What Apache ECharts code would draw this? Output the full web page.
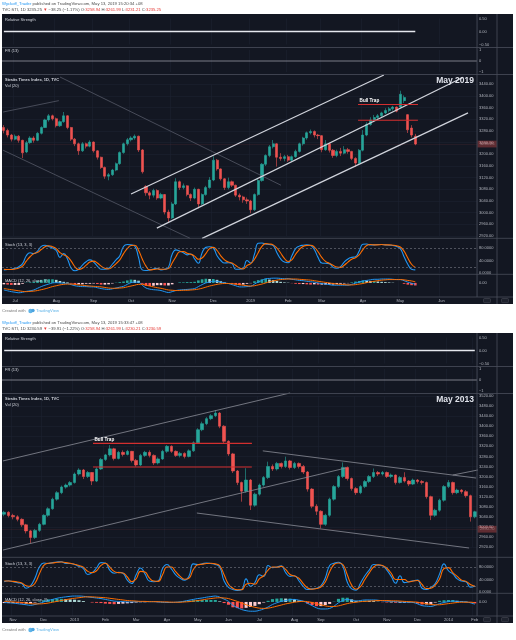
<!DOCTYPE html>
<html>
<head>
<meta charset="utf-8">
<title>STI - May 2019 vs May 2013</title>
<script src="https://cdn.jsdelivr.net/npm/echarts@6/dist/echarts.min.js"></script>
<style>
  html, body { margin: 0; padding: 0; background: #fff; }
  #main { width: 516px; height: 640px; }
</style>
</head>
<body>
<div id="main"></div>
<script>
// ---------- top screenshot (2018-19), one candle = 2 trading days ----------
const topMonthLabels = ['Jul', 'Aug', 'Sep', 'Oct', 'Nov', 'Dec', '2019', 'Feb', 'Mar', 'Apr', 'May', 'Jun'];
const topMonthSlots = [3, 14, 24, 34, 45, 56, 66, 76, 85, 96, 106, 117];
const topSlotCount = 127;
const topLastPrice = 3235.25;

// [open, close, low, high]
const topCandles = [
  [3292,3282,3272,3300],[3282,3266,3258,3288],[3266,3252,3244,3270],[3252,3262,3248,3268],[3262,3248,3240,3266],
  [3248,3205,3187,3250],[3208,3240,3204,3246],[3240,3256,3236,3262],[3256,3248,3240,3262],[3248,3272,3245,3276],
  [3272,3292,3268,3296],[3292,3318,3290,3322],[3318,3332,3312,3338],[3332,3322,3316,3336],[3322,3298,3292,3326],
  [3298,3312,3294,3316],[3312,3332,3308,3345],[3332,3292,3286,3334],[3292,3252,3246,3294],[3252,3236,3228,3256],
  [3236,3212,3198,3240],[3212,3236,3208,3242],[3236,3228,3220,3240],[3228,3242,3224,3248],[3242,3212,3206,3244],
  [3212,3190,3182,3214],[3190,3155,3150,3192],[3155,3125,3116,3158],[3125,3130,3111,3136],[3130,3146,3126,3150],
  [3146,3168,3142,3172],[3168,3206,3164,3210],[3206,3236,3202,3240],[3236,3250,3230,3256],[3250,3256,3244,3262],
  [3256,3262,3250,3268],[3262,3215,3208,3264],[3215,3140,3134,3218],[3090,3068,3058,3094],[3068,3060,3046,3074],
  [3060,3076,3052,3082],[3076,3050,3044,3080],[3050,3062,3046,3068],[3062,3002,2994,3064],[3002,2982,2965,3010],
  [2982,3030,2978,3036],[3030,3106,3026,3118],[3106,3086,3078,3110],[3086,3092,3080,3100],[3092,3062,3056,3094],
  [3062,3050,3040,3066],[3050,3080,3046,3086],[3080,3030,3015,3082],[3030,3062,3026,3066],[3062,3086,3058,3092],
  [3086,3112,3082,3122],[3112,3180,3108,3193],[3180,3150,3144,3184],[3150,3116,3110,3152],[3116,3086,3078,3118],
  [3086,3106,3080,3120],[3106,3094,3088,3110],[3094,3060,3054,3096],[3060,3054,3042,3066],[3054,3044,3034,3058],
  [3044,3040,3030,3052],[3040,3010,2998,3044],[3010,3062,3006,3066],[3062,3110,3058,3116],[3110,3166,3106,3170],
  [3166,3196,3160,3200],[3196,3226,3190,3232],[3226,3236,3220,3249],[3236,3190,3158,3238],[3190,3186,3178,3204],
  [3186,3192,3176,3198],[3192,3180,3174,3198],[3180,3192,3176,3196],[3192,3210,3188,3216],[3210,3236,3206,3240],
  [3236,3256,3230,3260],[3256,3274,3250,3278],[3274,3278,3268,3285],[3278,3266,3258,3282],[3266,3264,3252,3270],
  [3264,3216,3207,3266],[3216,3236,3212,3249],[3236,3214,3206,3240],[3214,3196,3188,3218],[3196,3210,3190,3216],
  [3210,3204,3194,3222],[3204,3216,3200,3228],[3216,3210,3202,3222],[3210,3186,3180,3212],[3186,3170,3157,3190],
  [3170,3214,3166,3218],[3214,3266,3210,3283],[3266,3302,3262,3310],[3302,3318,3298,3327],[3318,3326,3312,3335],
  [3326,3332,3318,3338],[3332,3342,3326,3346],[3342,3350,3338,3358],[3350,3356,3344,3362],[3356,3362,3350,3366],
  [3362,3348,3344,3364],[3362,3406,3358,3418],[3384,3395,3376,3402],[3336,3284,3273,3338],[3290,3266,3258,3300],
  [3262,3235.25,3231.21,3270]
];
const topStochK = [
  10,11,12,15,20,30,55,65,62,70, 85,89,85,80,72,50,62,45,15,7, 12,25,36,42,35,22,12,12,15,28,
  42,55,85,91,90,86,50,10,8,10, 13,15,10,12,18,60,74,70,65,58, 61,45,31,65,82,84,80,55,40,32,
  33,30,12,12,15,40,32,60,95,96, 93,91,88,65,45,35,33,55,78,86, 89,90,88,75,50,32,31,30,18,15,
  20,35,45,50,52,70,92,93,90,90, 91,91,90,89,88,85,78,52,28,12,10
];
const topStochD = [
  12,11,11,13,16,22,38,52,62,66, 75,84,87,84,78,65,58,52,38,20, 11,15,25,35,38,32,22,15,13,19,
  30,42,62,78,88,89,73,45,22,10, 11,13,12,12,14,32,52,68,69,63, 60,54,44,48,62,78,82,72,55,42,
  35,32,24,16,13,24,30,44,65,85, 94,93,90,80,64,47,37,42,60,75, 85,88,89,83,68,50,37,31,25,19,
  18,25,35,44,49,58,75,88,91,90, 90,91,90,90,89,87,83,70,48,28,18
];
const topMacd = [
  -25,-28,-31,-33,-35,-33,-30,-28,-25,-19, -13,-8,-4,0,1,0,-1,-2,-6,-10, -12,-13,-13,-14,-14,-17,-20,-22,-23,-21,
  -18,-15,-12,-5,1,3,3,-8,-18,-22, -24,-25,-27,-31,-34,-31,-27,-25,-24,-23, -22,-20,-13,-6,0,3,6,6,3,0,
  -2,-6,-10,-14,-14,-13,-12,-4,3,9, 15,16,17,17,16,15,15,13,11,9, 8,6,4,3,0,-2,-4,-6,-8,-8,
  -8,-8,-8,-5,-1,3,7,9,11,13, 13,14,14,14,13,12,12,8,3,-1,-5
];
const topSignal = [
  -20,-22,-24,-26,-28,-30,-31,-30,-29,-27, -24,-21,-17,-13,-10,-7,-5,-4,-4,-5, -7,-8,-10,-11,-12,-13,-14,-16,-18,-19,
  -19,-18,-17,-14,-11,-8,-5,-5,-8,-11, -14,-17,-19,-22,-25,-26,-27,-27,-26,-26, -25,-24,-22,-19,-15,-11,-8,-5,-3,-2,
  -2,-3,-4,-6,-8,-10,-11,-10,-7,-4, 0,4,7,10,12,13,14,14,14,13, 12,11,10,8,6,4,2,0,-2,-4,
  -5,-6,-7,-7,-6,-4,-2,1,4,6, 8,10,11,12,12,12,12,11,9,7,4
];
const topHist = [
  -5,-6,-7,-7,-7,-3,1,2,4,8, 11,13,13,13,11,7,4,2,-2,-5, -5,-5,-3,-3,-2,-4,-6,-6,-5,-2,
  1,3,5,9,12,11,8,-3,-10,-11, -10,-8,-8,-9,-9,-5,0,2,2,3, 3,4,9,13,15,14,14,11,6,2,
  0,-3,-6,-8,-6,-3,-1,6,10,13, 15,12,10,7,4,2,1,-1,-3,-4, -4,-5,-6,-5,-6,-6,-6,-6,-6,-4,
  -3,-2,-1,2,5,7,9,8,7,7, 5,4,3,2,1,0,0,-3,-6,-8,-9
];
// drawings: [slotA, priceA, slotB, priceB]
const topChannel = [[34.0, 3064, 101.6, 3472], [40.9, 2947, 122.8, 3464], [53.0, 2912, 124.1, 3342]];
const topFaint = [[15.0, 3465, 74.1, 3094], [-0.2, 3214, 49.8, 2912], [-0.2, 3345, 14.7, 3384]];
const topTrapLevels = [3371, 3317];
const topTrapSpan = [94.7, 110.7];

// ---------- bottom screenshot (2012-14), one candle = 3 trading days ----------
const bottomMonthLabels = ['Nov', 'Dec', '2013', 'Feb', 'Mar', 'Apr', 'May', 'Jun', 'Jul', 'Aug', 'Sep', 'Oct', 'Nov', 'Dec', '2014', 'Feb'];
const bottomMonthSlots = [2, 9, 16, 23, 30, 37, 44, 51, 58, 66, 72, 80, 87, 94, 101, 107];
const bottomSlotCount = 108;
const bottomLastPrice = 2990.70;

const bottomCandles = [
  [3050,3058,3042,3064],[3058,3045,3038,3062],[3045,3040,3030,3052],[3040,3030,3022,3046],[3030,3008,3000,3034],
  [3008,2984,2974,3012],[2984,2958,2935,2988],[2958,2986,2952,2992],[2986,3010,2980,3016],[3010,3046,3006,3050],
  [3046,3072,3040,3078],[3072,3110,3068,3116],[3110,3136,3104,3142],[3136,3158,3130,3164],[3158,3166,3152,3172],
  [3166,3176,3160,3182],[3176,3210,3172,3216],[3210,3226,3204,3233],[3226,3200,3190,3230],[3200,3216,3194,3222],
  [3216,3182,3166,3218],[3182,3230,3178,3236],[3230,3268,3226,3274],[3268,3286,3262,3290],[3286,3310,3280,3325],
  [3310,3272,3264,3314],[3272,3296,3268,3302],[3296,3288,3280,3304],[3288,3300,3284,3306],[3300,3264,3256,3302],
  [3264,3246,3239,3270],[3246,3284,3242,3290],[3284,3296,3278,3302],[3296,3284,3276,3304],[3284,3254,3246,3288],
  [3254,3270,3248,3276],[3270,3300,3266,3306],[3300,3320,3294,3325],[3320,3300,3294,3324],[3300,3284,3278,3304],
  [3284,3292,3276,3298],[3292,3280,3272,3296],[3280,3302,3276,3308],[3302,3334,3298,3340],[3334,3386,3330,3392],
  [3386,3410,3380,3418],[3410,3430,3404,3436],[3430,3442,3424,3448],[3442,3452,3436,3464],[3452,3400,3392,3456],
  [3400,3340,3332,3404],[3340,3290,3282,3344],[3290,3222,3214,3294],[3222,3176,3166,3226],[3176,3142,3100,3180],
  [3142,3186,3136,3233],[3186,3086,3067,3190],[3086,3130,3080,3136],[3130,3166,3124,3172],[3166,3196,3160,3202],
  [3196,3240,3190,3259],[3240,3230,3222,3248],[3230,3252,3224,3258],[3252,3240,3232,3256],[3240,3262,3234,3279],
  [3262,3236,3228,3266],[3236,3252,3230,3258],[3252,3240,3232,3256],[3240,3218,3210,3246],[3218,3150,3140,3222],
  [3150,3082,3074,3154],[3082,3062,3047,3090],[3062,3010,2994,3066],[3010,3046,3004,3052],[3046,3110,3040,3116],
  [3110,3160,3104,3166],[3160,3200,3154,3206],[3200,3236,3194,3256],[3236,3192,3184,3240],[3192,3152,3144,3196],
  [3152,3136,3127,3158],[3136,3160,3130,3166],[3160,3180,3154,3186],[3180,3200,3174,3206],[3200,3216,3194,3232],
  [3216,3210,3202,3222],[3210,3216,3204,3222],[3216,3200,3194,3220],[3200,3206,3194,3212],[3206,3176,3168,3208],
  [3176,3196,3172,3202],[3196,3182,3176,3217],[3182,3170,3162,3186],[3170,3186,3166,3192],[3186,3180,3172,3190],
  [3180,3176,3168,3186],[3176,3120,3112,3180],[3120,3046,3027,3124],[3046,3066,3040,3072],[3066,3106,3060,3112],
  [3106,3160,3100,3166],[3160,3176,3154,3186],[3176,3136,3128,3180],[3136,3146,3130,3152],[3146,3140,3132,3150],
  [3140,3124,3116,3146],[3124,3040,3021,3128],[3040,3060,3034,3064]
];
const bottomStochK = [
  33,36,33,30,27,12,20,45,80,93, 91,94,96,97,91,91,88,82,75,56, 62,77,94,93,70,60,63,60,38,27,
  55,77,58,35,33,35,75,88,74,55, 44,38,50,90,88,90,93,91,88,80, 35,15,8,5,8,42,18,30,55,50,
  85,78,80,84,62,50,52,36,18,8, 10,12,20,45,85,92,95,82,32,10, 6,28,52,70,88,86,84,70,50,28,
  52,30,33,36,38,12,8,15,27,58, 90,68,58,42,35,33,15,19
];
const bottomStochD = [
  35,35,34,32,29,20,18,28,58,85, 92,93,95,96,94,92,89,85,79,66, 62,68,85,92,80,66,62,61,48,33,
  42,66,64,45,35,34,55,80,80,65, 50,41,44,72,87,89,91,92,90,84, 55,25,12,7,7,25,28,25,42,52,
  70,80,79,82,72,56,51,44,27,13, 9,11,16,32,65,88,93,88,55,22, 9,17,40,61,80,87,85,76,60,40,
  40,40,32,35,37,24,11,12,22,42, 75,78,62,50,38,34,24,18
];
const bottomMacd = [
  -2,-3,-4,-6,-8,-10,-12,-9,-5,0, 5,9,13,16,18,20,21,21,20,18, 16,14,12,9,6,3,2,1,0,0,
  1,1,1,1,1,0,-1,-2,-2,-1, 0,3,6,9,12,14,17,19,21,17, 10,2,-12,-20,-27,-31,-33,-33,-30,-25,
  -18,-9,-3,2,5,8,9,6,3,-5, -13,-21,-25,-25,-23,-15,-3,5,9,6, 3,5,7,7,7,6,4,3,2,1,
  0,-1,-1,-2,-7,-13,-15,-16,-12,-6, -2,1,3,2,1,0,-3,-8
];
const bottomSignal = [
  2,1,0,-1,-2,-4,-6,-7,-7,-6, -4,-1,2,5,8,11,13,15,17,18, 18,17,16,15,13,11,9,7,5,4,
  3,2,2,1,1,1,0,0,-1,-1, -1,0,1,3,5,7,10,12,14,15, 14,12,7,2,-4,-10,-15,-19,-22,-23,
  -22,-19,-15,-11,-7,-4,-1,1,2,1, -2,-6,-10,-14,-16,-16,-14,-10,-6,-3, -1,1,2,3,4,5,5,5,4,4,
  3,2,1,0,-1,-4,-6,-9,-10,-10, -8,-6,-4,-2,-1,-1,-1,-3
];
const bottomHist = [
  -4,-4,-4,-5,-6,-6,-6,-2,2,6, 9,10,11,11,10,9,8,6,3,0, -2,-3,-4,-6,-7,-8,-7,-6,-5,-4,
  -2,-1,-1,0,0,-1,-1,-2,-1,0, 1,3,5,6,7,7,7,7,7,2, -4,-10,-19,-22,-23,-21,-18,-14,-8,-2,
  4,10,12,13,12,12,10,5,1,-6, -11,-15,-15,-11,-7,1,11,15,15,9, 4,4,5,4,3,1,-1,-2,-2,-3,
  -3,-3,-2,-2,-6,-9,-9,-7,-2,4, 6,7,7,4,2,1,-2,-5
];
const bottomLines = [[-0.27, 3262, 65.0, 3532], [-0.27, 2908, 77.7, 3234], [58.8, 3302, 107.3, 3194],
  [43.8, 3055, 105.7, 2916], [102.0, 3206, 107.7, 3226]];
const bottomTrapLevels = [3332, 3238];
const bottomTrapSpan = [20.2, 56.3];

// ---------- look ----------
const FONT = '"Liberation Sans", Arial, sans-serif';
const BG = '#131722';
const AXIS_TXT = '#b2b5be';
const GRID_LINE = '#1d2130';
const SEP = '#4a4e5a';
const UP = '#26a69a', DOWN = '#ef5350';

const grids = [], xAxes = [], yAxes = [], series = [], graphics = [];
const minus = s => s.replace('-', '\u2212');

function buildShot(c) {
  const oy = c.oy, n = c.slots;
  const monthAt = {};
  c.monthSlots.forEach((s, k) => { monthAt[s] = c.monthLabels[k]; });
  const isMonth = i => monthAt[i] !== undefined;
  const cats = [];
  for (let i = 0; i < n; i++) cats.push(String(i));

  function grid(top, height) {
    grids.push({ left: 2, width: 475, top: top, height: height, show: false });
    return grids.length - 1;
  }
  function catAxis(gi, labels) {
    xAxes.push({
      type: 'category', gridIndex: gi, data: cats, boundaryGap: true,
      axisLine: { show: false }, axisTick: { show: false },
      axisLabel: labels ? { show: true, interval: isMonth, formatter: (v, i) => monthAt[i] || '',
        color: AXIS_TXT, fontSize: 4, fontFamily: FONT, margin: 1.8 } : { show: false },
      splitLine: { show: true, interval: isMonth, lineStyle: { color: GRID_LINE, width: 0.6 } }
    });
    return xAxes.length - 1;
  }
  function valAxis(gi) {
    xAxes.push({ type: 'value', gridIndex: gi, min: -0.5, max: n - 0.5, show: false });
    return xAxes.length - 1;
  }
  function yAx(gi, o, fmt, grid) {
    yAxes.push(Object.assign({
      type: 'value', gridIndex: gi, position: 'right',
      axisLine: { show: false }, axisTick: { show: false },
      splitLine: { show: !!grid, lineStyle: { color: GRID_LINE, width: 0.6 } },
      axisLabel: { color: AXIS_TXT, fontSize: 4, fontFamily: FONT, margin: 2, formatter: fmt,
        showMinLabel: o.showMinLabel, showMaxLabel: o.showMaxLabel }
    }, { min: o.min, max: o.max, interval: o.interval }));
    return yAxes.length - 1;
  }
  function segment(xi, yi, seg, color, width) {
    series.push({
      type: 'line', xAxisIndex: xi, yAxisIndex: yi, clip: false, silent: true,
      showSymbol: false, symbol: 'none', lineStyle: { color: color, width: width },
      data: [[seg[0], seg[1]], [seg[2], seg[3]]]
    });
  }

  const last = c.candles.length - 1;

  // relative strength
  const gRs = grid(18.5 + oy, 26);
  catAxis(gRs, false);
  const xRs = valAxis(gRs);
  const yRs = yAx(gRs, { min: -0.5, max: 0.5, interval: 0.5 }, v => minus(v.toFixed(2)));
  segment(xRs, yRs, [0, 0, last, 0], '#e6e8ee', 1.3);

  // FR
  const gFr = grid(50 + oy, 22);
  catAxis(gFr, false);
  const xFr = valAxis(gFr);
  const yFr = yAx(gFr, { min: -1, max: 1, interval: 1 }, v => minus(String(v)));
  segment(xFr, yFr, [-0.5, 0, n - 0.5, 0], '#9598a1', 0.8);

  // price
  const gP = grid(c.mainTop, c.mainHeight);
  const xP = catAxis(gP, false);
  const xPv = valAxis(gP);
  const yP = yAx(gP, { min: c.mainMin, max: c.mainMax, interval: 40 }, v => v.toFixed(2), true);
  series.push({
    type: 'candlestick', xAxisIndex: xP, yAxisIndex: yP, barWidth: '70%', silent: true,
    itemStyle: { color: UP, color0: DOWN, borderColor: UP, borderColor0: DOWN, borderWidth: 0.6 },
    data: c.candles,
    markLine: {
      symbol: 'none', silent: true, animation: false,
      lineStyle: { color: DOWN, width: 0.5, type: 'dotted', opacity: 0.35 },
      label: { show: true, position: 'end', distance: 0.5, formatter: () => c.lastPrice.toFixed(2),
        color: '#fff', backgroundColor: DOWN, fontSize: 4, fontFamily: FONT, padding: [1.6, 2.4, 1.2, 2.4] },
      data: [{ yAxis: c.lastPrice }]
    }
  });
  c.drawings.forEach(d => d.lines.forEach(seg => segment(xPv, yP, seg, d.color, d.width)));
  c.trapLevels.forEach((lvl, k) => {
    const s = { type: 'line', xAxisIndex: xPv, yAxisIndex: yP, clip: false, silent: true,
      showSymbol: false, symbol: 'none', lineStyle: { color: '#d32f2f', width: 1.1 },
      data: [[c.trapSpan[0], lvl], [c.trapSpan[1], lvl]] };
    if (k === 0) {
      s.markLine = {
        symbol: 'none', silent: true, animation: false,
        lineStyle: { color: '#d32f2f', width: 1.1, type: 'solid' },
        label: { show: true, position: 'insideStartTop', formatter: 'Bull Trap', distance: 1.5,
          color: '#ffffff', fontSize: 4.6, fontWeight: 'bold', fontFamily: FONT },
        data: [[{ coord: [c.trapSpan[0], lvl] }, { coord: [c.trapSpan[1], lvl] }]]
      };
    }
    series.push(s);
  });

  // stochastic
  const gS = grid(248 + oy, 25);
  const xS = catAxis(gS, false);
  const yS = yAx(gS, { min: 0, max: 80, interval: 40 }, v => v.toFixed(4));
  series.push({
    type: 'line', xAxisIndex: xS, yAxisIndex: yS, data: c.stochK, clip: false, silent: true,
    showSymbol: false, smooth: 0.5, lineStyle: { color: '#2196f3', width: 1.1 },
    markLine: { symbol: 'none', silent: true, label: { show: false },
      lineStyle: { color: '#787b86', width: 0.6, type: [2, 2] }, data: [{ yAxis: 80 }, { yAxis: 20 }] }
  });
  series.push({
    type: 'line', xAxisIndex: xS, yAxisIndex: yS, data: c.stochD, clip: false, silent: true,
    showSymbol: false, smooth: 0.5, lineStyle: { color: '#ff6d00', width: 1.1 }
  });

  // MACD
  const gM = grid(274.5 + oy, 22.5);
  const xM = catAxis(gM, true);
  const yM = yAx(gM, { min: -50, max: 30, interval: 50, showMinLabel: false, showMaxLabel: false },
    v => v.toFixed(2));
  series.push({
    type: 'bar', xAxisIndex: xM, yAxisIndex: yM, data: c.hist, barWidth: '70%', silent: true,
    itemStyle: { color: p => {
      const v = c.hist[p.dataIndex];
      const prev = p.dataIndex > 0 ? c.hist[p.dataIndex - 1] : v;
      if (v >= 0) return v >= prev ? '#26a69a' : '#b2dfdb';
      return v < prev ? '#ff5252' : '#ffcdd2';
    } }
  });
  series.push({ type: 'line', xAxisIndex: xM, yAxisIndex: yM, data: c.macd, silent: true,
    showSymbol: false, smooth: 0.4, lineStyle: { color: '#2196f3', width: 1 } });
  series.push({ type: 'line', xAxisIndex: xM, yAxisIndex: yM, data: c.signal, silent: true,
    showSymbol: false, smooth: 0.4, lineStyle: { color: '#ff6d00', width: 1 } });

  // frame
  graphics.push({ type: 'rect', z: -10, silent: true, shape: { x: 2, y: 14 + oy, width: 511, height: 290 }, style: { fill: BG } });
  [47.5, 74.5, 238.3, 274.3, 297].forEach(y => graphics.push({ type: 'line', z: 50, silent: true,
    shape: { x1: 2, y1: y + oy, x2: 513, y2: y + oy }, style: { stroke: SEP, lineWidth: 0.8 } }));
  graphics.push({ type: 'line', z: 50, silent: true, shape: { x1: 477, y1: 14 + oy, x2: 477, y2: 297 + oy }, style: { stroke: SEP, lineWidth: 0.8 } });
  graphics.push({ type: 'line', z: 50, silent: true, shape: { x1: 497, y1: 14 + oy, x2: 497, y2: 304 + oy }, style: { stroke: SEP, lineWidth: 0.8 } });
  [483.5, 501.5].forEach(x => graphics.push({ type: 'rect', z: 50, silent: true,
    shape: { x: x, y: 298.5 + oy, width: 7, height: 4.2, r: 1 }, style: { fill: '#1e222d', stroke: '#50535e', lineWidth: 0.5 } }));

  const txt = (x, y, text, extra) => graphics.push({ type: 'text', z: 60, silent: true, x: x, y: y,
    style: Object.assign({ text: text, fill: '#d1d4dc', fontSize: 4, fontFamily: FONT, verticalAlign: 'middle' }, extra || {}) });
  txt(2, 3.8 + oy, '{n|Wyckoff_Trader}' + c.published, { fill: '#4a4a4a', fontSize: 4.2,
    rich: { n: { fill: '#2196f3', fontSize: 4.2, fontFamily: FONT } } });
  txt(2, 9.6 + oy, c.quote, { fill: '#4a4a4a', fontSize: 4.2,
    rich: { r: { fill: '#e53935', fontSize: 4.2, fontFamily: FONT } } });
  txt(5, 20 + oy, 'Relative Strength');
  txt(5, 51 + oy, 'FR (13)');
  txt(5, 80 + oy, 'Straits Times Index, 1D, TVC', { fontWeight: 'bold' });
  txt(5, 85.5 + oy, 'Vol (20)');
  txt(5, 244.5 + oy, 'Stoch (13, 3, 3)');
  txt(5, 280.5 + oy, 'MACD (12, 26, close, 9)');
  txt(474, 80.5 + oy, c.stamp, { fontSize: 8.5, fontWeight: 'bold', align: 'right', fill: '#e0e3eb' });
  txt(2, 311 + oy, 'Created with', { fill: '#777', fontSize: 4.2 });
  graphics.push({ type: 'circle', z: 60, silent: true, shape: { cx: 30.5, cy: 311 + oy, r: 2.2 }, style: { fill: '#5fb4e8' } });
  graphics.push({ type: 'circle', z: 60, silent: true, shape: { cx: 33, cy: 310.5 + oy, r: 1.7 }, style: { fill: '#4aa3df' } });
  txt(36, 311 + oy, 'TradingView', { fill: '#5fb4e8', fontSize: 4.2 });
}

buildShot({
  oy: 0, slots: topSlotCount, monthSlots: topMonthSlots, monthLabels: topMonthLabels,
  candles: topCandles, stochK: topStochK, stochD: topStochD, macd: topMacd, signal: topSignal, hist: topHist,
  lastPrice: topLastPrice, mainTop: 84.3, mainHeight: 151.7, mainMin: 2920, mainMax: 3440,
  drawings: [{ lines: topFaint, color: '#545866', width: 0.8 }, { lines: topChannel, color: '#d1d4dc', width: 1.2 }],
  trapLevels: topTrapLevels, trapSpan: topTrapSpan, stamp: 'May 2019',
  published: ' published on TradingView.com, May 13, 2019 15:20:34 +08',
  quote: 'TVC:STI, 1D 3235.25 {r|\u25BC} \u221238.25 (\u22121.17%) O:{r|3258.94} H:{r|3261.99} L:{r|3231.21} C:{r|3235.25}'
});
buildShot({
  oy: 319, slots: bottomSlotCount, monthSlots: bottomMonthSlots, monthLabels: bottomMonthLabels,
  candles: bottomCandles, stochK: bottomStochK, stochD: bottomStochD, macd: bottomMacd, signal: bottomSignal, hist: bottomHist,
  lastPrice: bottomLastPrice, mainTop: 396, mainHeight: 151, mainMin: 2920, mainMax: 3520,
  drawings: [{ lines: bottomLines, color: '#8a8d97', width: 0.8 }],
  trapLevels: bottomTrapLevels, trapSpan: bottomTrapSpan, stamp: 'May 2013',
  published: ' published on TradingView.com, May 13, 2019 15:33:47 +08',
  quote: 'TVC:STI, 1D 3230.59 {r|\u25BC} \u221239.91 (\u22121.22%) O:{r|3258.94} H:{r|3261.99} L:{r|3230.21} C:{r|3230.59}'
});

const chart = echarts.init(document.getElementById('main'), null, { renderer: 'canvas' });
chart.setOption({
  animation: false,
  backgroundColor: '#ffffff',
  textStyle: { fontFamily: FONT },
  grid: grids,
  xAxis: xAxes,
  yAxis: yAxes,
  series: series,
  graphic: graphics
});
</script>
</body>
</html>
